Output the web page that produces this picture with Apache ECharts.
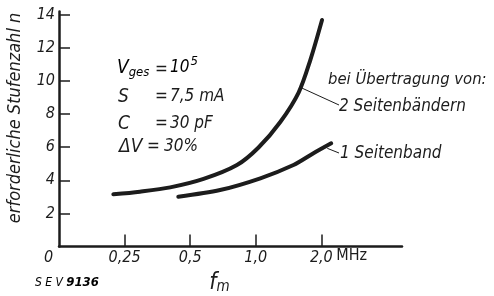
<!DOCTYPE html>
<html>
<head>
<meta charset="utf-8">
<script src="https://cdn.jsdelivr.net/npm/echarts@6/dist/echarts.min.js"></script>
<style>
  html, body { margin: 0; padding: 0; background: #fff; }
  #main { width: 494px; height: 296px; }
</style>
</head>
<body>
<div id="main"></div>
<script>
// Frequenz f_m in MHz, Stufenzahl n
var f2Seiten = [0.222, 0.294, 0.405, 0.576, 0.82, 1.03, 1.296, 1.573, 1.78, 2.015];
var n2Seiten = [3.15, 3.31, 3.57, 4.08, 4.92, 5.98, 7.52, 9.30, 11.26, 13.68];
var f1Seite = [0.441, 0.686, 1.05, 1.49, 1.84, 2.22];
var n1Seite = [3.01, 3.41, 4.12, 4.92, 5.63, 6.23];

// Achsenbeschriftung (log2-Teilung, 0 steht bei 0,125 MHz)
var xTickValues = [0.25, 0.5, 1.0, 2.0];
var xTickLabels = { '-2': '0,25', '-1': '0,5', '0': '1,0', '1': '2,0' };
var yTickValues = [2, 4, 6, 8, 10, 12, 14];

var FONT = "'DejaVu Sans Condensed', 'Liberation Sans Narrow', sans-serif";
var INK = '#1c1c1c';

function toPairs(fs, ns) {
    return fs.map(function (f, i) { return [Math.log2(f), ns[i]]; });
}

var myChart = echarts.init(document.getElementById('main'));

myChart.setOption({
    animation: false,
    backgroundColor: '#fff',
    grid: { left: 59, right: 92, top: 11.4, bottom: 49.5, outerBoundsMode: 'none' },
    xAxis: {
        type: 'value',
        min: -3,
        max: 2.23,
        interval: 1,
        name: '{f|f}{m|m}',
        nameLocation: 'middle',
        nameGap: 25,
        nameTextStyle: {
            padding: [0, 22, 0, 0],
            rich: {
                f: { fontFamily: FONT, fontStyle: 'italic', fontSize: 23, color: INK },
                m: { fontFamily: FONT, fontStyle: 'italic', fontSize: 15, color: INK, padding: [8, 0, 0, 0] }
            }
        },
        axisLine: { onZero: false, lineStyle: { color: INK, width: 2.5 } },
        axisTick: {
            inside: true, length: 12,
            customValues: xTickValues.map(function (v) { return Math.log2(v); }),
            lineStyle: { color: INK, width: 1.5 }
        },
        axisLabel: {
            margin: 3,
            customValues: [-2, -1, 0, 1],
            formatter: function (v) { return xTickLabels[String(Math.round(v))]; },
            fontFamily: FONT, fontStyle: 'italic', fontSize: 16, color: INK
        },
        splitLine: { show: false }
    },
    yAxis: {
        type: 'value',
        min: 0,
        max: 14.2,
        interval: 2,
        name: 'erforderliche Stufenzahl n',
        nameLocation: 'middle',
        nameGap: 35,
        nameTextStyle: {
            fontFamily: FONT, fontStyle: 'italic', fontSize: 18, color: INK,
            padding: [0, 0, 0, 22]
        },
        axisLine: { onZero: false, lineStyle: { color: INK, width: 2.5 } },
        axisTick: {
            inside: true, length: 11,
            customValues: yTickValues,
            lineStyle: { color: INK, width: 1.5 }
        },
        axisLabel: {
            margin: 4,
            customValues: yTickValues,
            fontFamily: FONT, fontStyle: 'italic', fontSize: 16, color: INK,
            padding: [8, 0, 0, 0]
        },
        splitLine: { show: false }
    },
    series: [{
        name: '2 Seitenbändern',
        type: 'line',
        smooth: 0.3,
        symbol: 'none',
        data: toPairs(f2Seiten, n2Seiten),
        lineStyle: { color: INK, width: 4, cap: 'round' }
    }, {
        name: '1 Seitenband',
        type: 'line',
        smooth: 0.3,
        symbol: 'none',
        data: toPairs(f1Seite, n1Seite),
        lineStyle: { color: INK, width: 4, cap: 'round' }
    }]
});

// Beschriftungen im Diagramm
var p2 = myChart.convertToPixel({ gridIndex: 0 }, [Math.log2(1.61), 9.6]);
var p1 = myChart.convertToPixel({ gridIndex: 0 }, [Math.log2(2.13), 5.93]);
var pMHz = myChart.convertToPixel({ gridIndex: 0 }, [Math.log2(2.0), 0]);
var p0 = myChart.convertToPixel({ gridIndex: 0 }, [-3, 0]);

var txt = { fontFamily: FONT, fontStyle: 'italic', fontSize: 17, fill: INK };
function T(x, y, s, extra) {
    return { type: 'text', x: x, y: y, style: Object.assign({}, txt, { text: s, verticalAlign: 'middle' }, extra || {}) };
}

myChart.setOption({
    graphic: [
        // Nullpunkt
        T(p0[0] - 10.5, p0[1] + 11, '0', { fontSize: 16, align: 'center' }),

        // Parameter
        {
            type: 'text', x: 117, y: 68,
            style: {
                text: '{v|V}{s|ges}', verticalAlign: 'middle',
                rich: {
                    v: { fontFamily: FONT, fontStyle: 'italic', fontSize: 19, color: INK },
                    s: { fontFamily: FONT, fontStyle: 'italic', fontSize: 13, color: INK, padding: [10, 0, 0, 0] }
                }
            }
        },
        T(155, 70, '='),
        {
            type: 'text', x: 170, y: 68,
            style: {
                text: '{b|10}{e|5}', verticalAlign: 'middle',
                rich: {
                    b: { fontFamily: FONT, fontStyle: 'italic', fontSize: 17, color: INK },
                    e: { fontFamily: FONT, fontStyle: 'italic', fontSize: 13, color: INK, padding: [0, 0, 12, 1] }
                }
            }
        },
        T(118, 97, 'S', { fontSize: 19 }),
        T(155, 97, '='),
        T(170, 97, '7,5 mA'),
        T(118, 124, 'C', { fontSize: 19 }),
        T(155, 124, '='),
        T(170, 124, '30 pF'),
        T(119, 147, 'ΔV', { fontSize: 19 }),
        T(147, 147, '='),
        T(164, 147, '30%'),

        // Kurvenbezeichnungen
        T(328, 80, 'bei Übertragung von:', { fontSize: 16.5 }),
        T(339, 107, '2 Seitenbändern', { fontSize: 17 }),
        T(340, 154, '1 Seitenband', { fontSize: 17 }),
        { type: 'line', shape: { x1: p2[0], y1: p2[1], x2: 339, y2: 105 }, style: { stroke: INK, lineWidth: 1 } },
        { type: 'line', shape: { x1: p1[0], y1: p1[1], x2: 339, y2: 153 }, style: { stroke: INK, lineWidth: 1 } },

        // Einheit
        T(pMHz[0] + 15, 256, 'MHz', { fontStyle: 'normal', fontSize: 16 }),

        // Bildnummer
        {
            type: 'text', x: 35, y: 283,
            style: {
                text: '{a|S E V }{b|9136}', verticalAlign: 'middle',
                rich: {
                    a: { fontFamily: FONT, fontStyle: 'italic', fontSize: 12, color: INK },
                    b: { fontFamily: FONT, fontStyle: 'italic', fontWeight: 'bold', fontSize: 13, color: INK }
                }
            }
        }
    ]
});
</script>
</body>
</html>
